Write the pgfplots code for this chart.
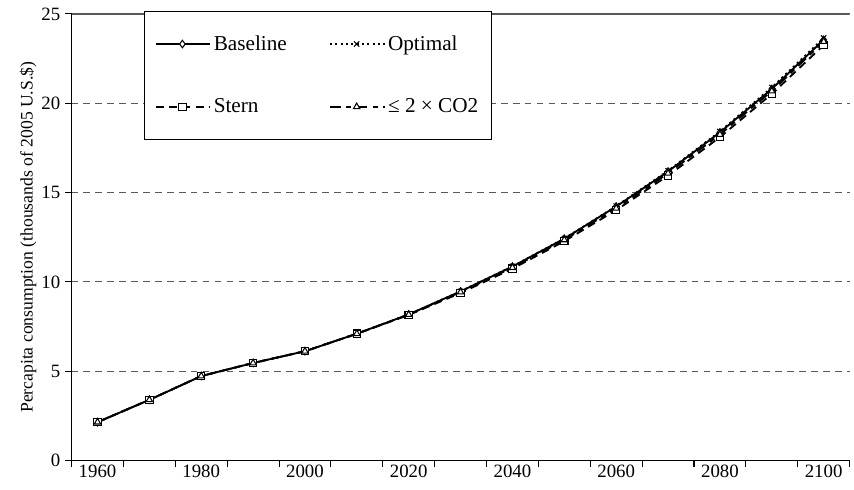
\documentclass[border=0pt]{standalone}
\usepackage{fontspec}
\setmainfont{Liberation Serif}
\usepackage{pgfplots}
\pgfplotsset{compat=1.18}
\begin{document}
\begin{tikzpicture}
\begin{axis}[
  name=ax,
  scale only axis, width=587pt, height=337pt,
  xmin=1955, xmax=2105, ymin=0, ymax=25,
  axis x line*=bottom, axis y line*=left,
  axis line style={black, line width=0.9pt},
  tick style={black, line width=0.8pt},
  tick align=outside,
  major tick length=5pt,
  xtick={1955,1965,...,2105},
  xticklabels={},
  extra x ticks={1960,1980,...,2100},
  extra x tick style={major tick length=0pt, grid=none},
  ytick={0,5,...,25},
  ymajorgrids,
  grid style={dash pattern=on 5pt off 4pt, gray!70!black, line width=0.7pt},
  /pgf/number format/assume math mode=true,
  /pgf/number format/1000 sep={},
  tick label style={font=\fontsize{14.2}{17}\selectfont},
  ylabel={Percapita consumption (thousands of 2005 U.S.\$)},
  ylabel style={font=\fontsize{13.3}{16}\selectfont, yshift=-3pt},
  legend columns=2,
  legend cell align=left,
  legend style={at={(rel axis cs:0.0932,1.0067)}, anchor=north west,
    draw=black, font=\fontsize{16}{19}\selectfont,
    inner xsep=8pt, inner ysep=16.5pt, row sep=31pt,
    /tikz/every even column/.append style={column sep=30pt}},
  legend image code/.code={\draw[mark repeat=2,mark phase=2,#1] plot coordinates {(0pt,0pt) (20pt,0pt) (41pt,0pt)};},
  every axis plot/.append style={line width=1.4pt, mark size=2.8pt},
]
\addplot[black, solid, mark=diamond*, mark options={solid, fill=white, line width=0.8pt}] coordinates {
(1960,2.15) (1970,3.40) (1980,4.73) (1990,5.46) (2000,6.12) (2010,7.10) (2020,8.18) (2030,9.47) (2040,10.86) (2050,12.42) (2060,14.22) (2070,16.18) (2080,18.37) (2090,20.80) (2100,23.55)};
\addlegendentry{Baseline}
\addplot[black, dash pattern=on 1.5pt off 2.5pt, mark=x, mark options={solid, line width=0.8pt}] coordinates {
(1960,2.15) (1970,3.40) (1980,4.73) (1990,5.46) (2000,6.12) (2010,7.10) (2020,8.18) (2030,9.47) (2040,10.87) (2050,12.43) (2060,14.24) (2070,16.22) (2080,18.42) (2090,20.88) (2100,23.65)};
\addlegendentry{Optimal}
\addplot[black, dash pattern=on 6pt off 4pt, mark=square*, mark options={solid, fill=white, line width=0.8pt}] coordinates {
(1960,2.15) (1970,3.40) (1980,4.73) (1990,5.46) (2000,6.12) (2010,7.10) (2020,8.15) (2030,9.38) (2040,10.74) (2050,12.28) (2060,14.02) (2070,15.95) (2080,18.10) (2090,20.52) (2100,23.25)};
\addlegendentry{Stern}
\addplot[black, dash pattern=on 8pt off 4pt on 4pt off 4pt, mark=triangle*, mark options={solid, fill=white, line width=0.8pt}] coordinates {
(1960,2.15) (1970,3.40) (1980,4.73) (1990,5.46) (2000,6.12) (2010,7.10) (2020,8.17) (2030,9.43) (2040,10.80) (2050,12.35) (2060,14.12) (2070,16.08) (2080,18.25) (2090,20.68) (2100,23.45)};
\addlegendentry{≤ 2 × CO2}
\draw[gray!70!black, line width=1pt] (rel axis cs:0,1) -- (rel axis cs:1,1);
\end{axis}
\path (ax.north west) ++(-54pt,10.5pt);
\path (ax.south west) ++(0pt,-21.75pt);
\end{tikzpicture}
\end{document}
